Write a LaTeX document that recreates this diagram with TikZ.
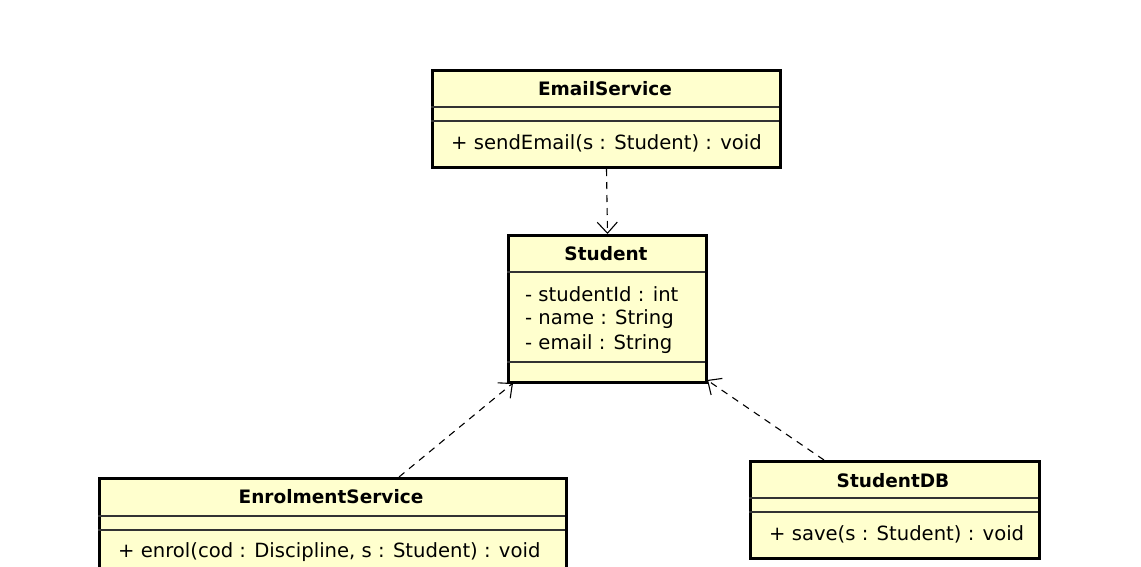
\documentclass[tikz,border=0pt]{standalone}
\usepackage{fontspec}
\setmainfont{DejaVu Sans}
\usetikzlibrary{arrows.meta}
\definecolor{umlfill}{RGB}{255,255,206}

\begin{document}
\begin{tikzpicture}[
  x=1pt, y=-1pt,
  classbox/.style={rectangle, draw, line width=3pt, fill=umlfill, anchor=north west, inner sep=0pt},
  classname/.style={font=\fontsize{18.5}{22}\selectfont\bfseries, inner sep=0pt},
  member/.style={font=\fontsize{19.6}{22}\selectfont, anchor=west, inner sep=0pt},
  sepline/.style={line width=1.3pt, draw=black!80},
  depends/.style={dash pattern=on 7pt off 6pt, line width=1.1pt, -{Straight Barb[length=11pt, width=20pt, line width=1.1pt]}}
]
\clip (0,0) rectangle (1141,566);
\fill[white] (0,0) rectangle (1141,566);

% EmailService
\node[classbox, minimum width=348pt, minimum height=97pt] (email) at (431,69) {};
\node[classname] (emailname) at (605,89) {EmailService};
\draw[sepline] (431,107) -- (779,107);
\draw[sepline] (431,121) -- (779,121);
\node[member] (sendemail) at (451,143) {+ sendEmail(s : Student) : void};

% Student
\node[classbox, minimum width=198pt, minimum height=147pt] (student) at (507,234) {};
\node[classname] (studentname) at (606,254) {Student};
\draw[sepline] (507,272) -- (705,272);
\node[member] (studentid) at (525,294) {- studentId : int};
\node[member] (name) at (525,319) {- name : String};
\node[member] (mail) at (525,344) {- email : String};
\draw[sepline] (507,362) -- (705,362);

% EnrolmentService
\node[classbox, minimum width=467pt, minimum height=110pt] (enrol) at (98,477) {};
\node[classname] (enrolname) at (331,497) {EnrolmentService};
\draw[sepline] (98,516) -- (565,516);
\draw[sepline] (98,530) -- (565,530);
\node[member] (enrolop) at (118,552) {+ enrol(cod : Discipline, s : Student) : void};

% StudentDB
\node[classbox, minimum width=289pt, minimum height=97pt] (db) at (749,460) {};
\node[classname] (dbname) at (893,481) {StudentDB};
\draw[sepline] (749,498) -- (1038,498);
\draw[sepline] (749,512) -- (1038,512);
\node[member] (save) at (769,534) {+ save(s : Student) : void};

% dependencies
\draw[depends] (email.south) -- (student.north);
\draw[depends] ([xshift=66pt]enrol.north) -- ([xshift=6pt, yshift=1pt]student.south west);
\draw[depends] ([xshift=-71pt]db.north) -- ([xshift=-1pt, yshift=4pt]student.south east);
\end{tikzpicture}
\end{document}
